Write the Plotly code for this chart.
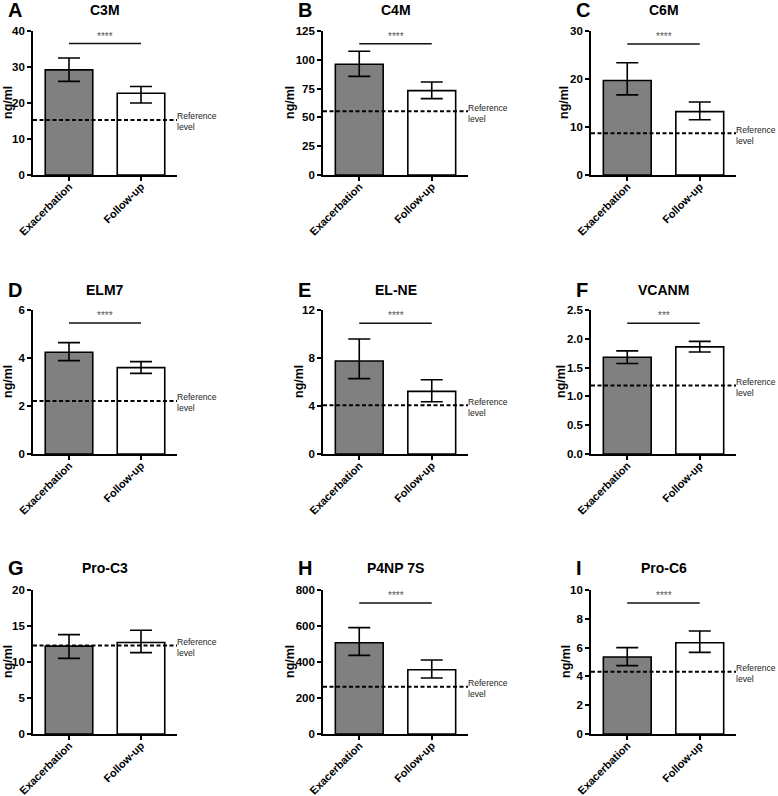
import plotly.graph_objects as go
from plotly.subplots import make_subplots

# ---------------- data ----------------
panel_letters = ["A", "B", "C", "D", "E", "F", "G", "H", "I"]
panel_titles = ["C3M", "C4M", "C6M", "ELM7", "EL-NE", "VCANM", "Pro-C3", "P4NP 7S", "Pro-C6"]
categories = ["Exacerbation", "Follow-up"]

exac_mean = [29.2, 96.1, 19.7, 4.24, 7.75, 1.68, 12.2, 507, 5.35]
exac_upper = [32.5, 107.4, 23.4, 4.64, 9.58, 1.79, 13.8, 591, 6.0]
exac_lower = [26.0, 85.6, 16.7, 3.89, 6.28, 1.57, 10.5, 437, 4.75]

follow_mean = [22.7, 73.2, 13.2, 3.60, 5.22, 1.86, 12.7, 357, 6.34]
follow_upper = [24.6, 80.7, 15.2, 3.85, 6.19, 1.956, 14.4, 411, 7.15]
follow_lower = [20.0, 66.3, 11.5, 3.36, 4.36, 1.77, 11.3, 311, 5.67]

reference_level = [15.3, 55.3, 8.7, 2.21, 4.06, 1.19, 12.3, 263, 4.33]

y_max = [40, 125, 30, 6, 12, 2.5, 20, 800, 10]
y_dtick = [10, 25, 10, 2, 4, 0.5, 5, 200, 2]
y_tickformat = ["", "", "", "", "", ".1f", "", "", ""]

significance = ["****", "****", "****", "****", "****", "***", "", "****", "****"]
bracket_y = [36.5, 114, 27.3, 5.46, 10.9, 2.27, None, 728, 9.1]

y_label = "ng/ml"
ref_label = "Reference<br>level"

# ---------------- layout geometry (pixels) ----------------
W, H = 778, 796
col_px = [(33, 177), (323, 468), (591, 736)]
row_px = [(31, 175), (310, 454), (590, 734)]
letter_x_px = [6, 296, 574]
header_y_px = [10, 290, 568]
ytitle_x_px = [8, 290, 564, 8, 299, 561, 8, 290, 566]

FONT = "Liberation Sans, Arial, Helvetica, sans-serif"

fig = make_subplots(rows=3, cols=3)

for k in range(9):
    r, c = divmod(k, 3)
    idx = k + 1
    xa = "x" if idx == 1 else f"x{idx}"
    ya = "y" if idx == 1 else f"y{idx}"
    xn = "xaxis" if idx == 1 else f"xaxis{idx}"
    yn = "yaxis" if idx == 1 else f"yaxis{idx}"

    means = [exac_mean[k], follow_mean[k]]
    plus = [exac_upper[k] - exac_mean[k], follow_upper[k] - follow_mean[k]]
    minus = [exac_mean[k] - exac_lower[k], follow_mean[k] - follow_lower[k]]

    fig.add_trace(
        go.Bar(
            x=categories,
            y=means,
            marker=dict(color=["#808080", "#ffffff"], line=dict(color="#000000", width=1.6)),
            error_y=dict(type="data", symmetric=False, array=plus, arrayminus=minus,
                         color="#000000", thickness=1.6, width=11),
            width=0.66,
            showlegend=False,
            hoverinfo="skip",
        ),
        row=r + 1, col=c + 1,
    )

    x0, x1 = col_px[c]
    yt, yb = row_px[r]
    fig.layout[xn].update(
        domain=[x0 / W, x1 / W],
        anchor=ya,
        automargin=False,
        range=[-0.5, 1.5],
        showline=True, linecolor="#000000", linewidth=1.6,
        ticks="outside", ticklen=4, tickwidth=1.5, tickcolor="#000000",
        tickangle=-45, ticklabelstandoff=-5,
        tickfont=dict(family=FONT, size=11, color="#000000", weight="bold"),
        showgrid=False, zeroline=False, fixedrange=True,
    )
    fig.layout[yn].update(
        domain=[1 - yb / H, 1 - yt / H],
        anchor=xa,
        automargin=False,
        range=[0, y_max[k]],
        dtick=y_dtick[k], tick0=0,
        tickformat=y_tickformat[k],
        showline=True, linecolor="#000000", linewidth=1.6,
        ticks="outside", ticklen=4, tickwidth=1.5, tickcolor="#000000",
        tickfont=dict(family=FONT, size=11.5, color="#000000", weight="bold"),
        showgrid=False, zeroline=False, fixedrange=True,
    )

    # y-axis title
    fig.add_annotation(xref="paper", yref=f"{ya} domain", x=ytitle_x_px[k] / W, y=0.5,
                       xanchor="center", yanchor="middle", textangle=-90,
                       text=y_label, showarrow=False, borderpad=0,
                       font=dict(family=FONT, size=12.5, color="#000000", weight="bold"))

    # reference level dashed line
    fig.add_shape(type="line", xref=f"{xa} domain", yref=ya,
                  x0=0, x1=1, y0=reference_level[k], y1=reference_level[k],
                  line=dict(color="#000000", width=2, dash="4px,2.5px"), layer="above")
    fig.add_annotation(xref=f"{xa} domain", yref=ya, x=1, y=reference_level[k],
                       xanchor="left", yanchor="middle", xshift=-1, yshift=-2,
                       text=ref_label, showarrow=False, align="left", borderpad=0,
                       font=dict(family=FONT, size=8.6, color="#222222"))

    # significance bracket
    if significance[k]:
        fig.add_shape(type="line", xref=xa, yref=ya, x0=0, x1=1,
                      y0=bracket_y[k], y1=bracket_y[k],
                      line=dict(color="#111111", width=1.5), layer="above")
        fig.add_annotation(xref=xa, yref=ya, x=0.5, y=bracket_y[k],
                           xanchor="center", yanchor="bottom", yshift=0,
                           text=significance[k], showarrow=False,
                           font=dict(family=FONT, size=10, color="#555555"))

    # panel title
    fig.add_annotation(xref="paper", yref="paper", x=(x0 + x1) / 2 / W,
                       y=1 - header_y_px[r] / H, xanchor="center", yanchor="middle",
                       text=panel_titles[k], showarrow=False,
                       font=dict(family=FONT, size=14, color="#000000", weight="bold"))
    # panel letter
    fig.add_annotation(xref="paper", yref="paper", x=letter_x_px[c] / W,
                       y=1 - header_y_px[r] / H, xanchor="left", yanchor="middle",
                       text=panel_letters[k], showarrow=False,
                       font=dict(family=FONT, size=20, color="#000000", weight="bold"))

fig.update_layout(
    width=W, height=H,
    margin=dict(l=0, r=0, t=0, b=0, autoexpand=False),
    paper_bgcolor="#ffffff", plot_bgcolor="#ffffff",
    bargap=0.34,
    font=dict(family=FONT, color="#000000"),
    showlegend=False,
)

fig.write_html("out.html", config={"displayModeBar": False},
               post_script="document.body.style.margin='0';document.body.style.overflow='hidden';")
